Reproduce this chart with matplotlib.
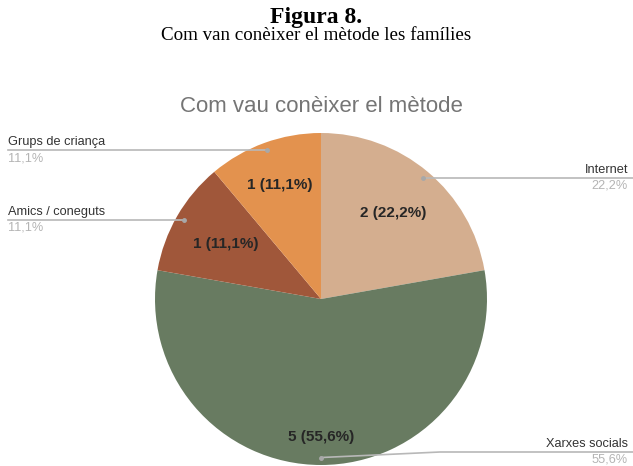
import numpy as np
import matplotlib
matplotlib.use("Agg")
import matplotlib.pyplot as plt

categories = ["Internet", "Xarxes socials", "Amics / coneguts", "Grups de criança"]
values = [2, 5, 1, 1]
pct_labels = ["22,2%", "55,6%", "11,1%", "11,1%"]
colors = ["#d4ae8f", "#687b61", "#a0573a", "#e3924e"]

W, H = 633, 466
fig = plt.figure(figsize=(W / 100, H / 100), dpi=100)
ax = fig.add_axes([0, 0, 1, 1])

cx, cy, R = 321, H - 299, 166
wedges, _ = ax.pie(values, colors=colors, startangle=90, counterclock=False,
                   center=(cx, cy), radius=R, wedgeprops=dict(linewidth=0))
ax.set_xlim(0, W)
ax.set_ylim(0, H)
ax.set_aspect("equal")
ax.axis("off")

sans = ["Liberation Sans", "DejaVu Sans"]
serif = ["Liberation Serif", "DejaVu Serif"]

# inner value labels
inner_r = [0.68, 0.83, 0.66, 0.73]
for w, v, p, rr in zip(wedges, values, pct_labels, inner_r):
    ang = np.deg2rad((w.theta1 + w.theta2) / 2)
    x = cx + rr * R * np.cos(ang)
    y = cy + rr * R * np.sin(ang)
    ax.text(x, y, f"{v} ({p})", ha="center", va="center",
            fontsize=11, family=sans, color="#262626", fontweight="semibold")

# leader lines and outside labels
line_c = "#b8b8b8"
fs = 9.2
right_x = 628
left_x = 8
for w, cat, p in zip(wedges, categories, pct_labels):
    ang = np.deg2rad((w.theta1 + w.theta2) / 2)
    dx = cx + 0.955 * R * np.cos(ang)
    dy = cy + 0.955 * R * np.sin(ang)
    ax.plot([dx], [dy], marker="o", ms=2.5, color="#a8a8a8", zorder=5)
    if cat == "Xarxes socials":
        ly = H - 452
        ax.plot([dx, 440, W], [dy, ly, ly], color=line_c, lw=1.2, zorder=4)
        ax.text(right_x, ly + 2, cat, ha="right", va="bottom", fontsize=fs, family=sans, color="#333333")
        ax.text(right_x, ly - 2, p, ha="right", va="top", fontsize=fs, family=sans, color="#b4b4b4")
    elif np.cos(ang) > 0:
        ly = dy
        ax.plot([dx, W], [ly, ly], color=line_c, lw=1.2, zorder=4)
        ax.text(right_x, ly + 2, cat, ha="right", va="bottom", fontsize=fs, family=sans, color="#333333")
        ax.text(right_x, ly - 2, p, ha="right", va="top", fontsize=fs, family=sans, color="#b4b4b4")
    else:
        ly = dy
        ax.plot([left_x, dx], [ly, ly], color=line_c, lw=1.2, zorder=4)
        ax.text(left_x, ly + 2, cat, ha="left", va="bottom", fontsize=fs, family=sans, color="#333333")
        ax.text(left_x, ly - 2, p, ha="left", va="top", fontsize=fs, family=sans, color="#b4b4b4")

# chart title
ax.text(cx, H - 106, "Com vau conèixer el mètode", ha="center", va="center",
        fontsize=16, family=sans, color="#757575")

# figure titles
fig.text(316 / W, 1 - 17 / H, "Figura 8.", ha="center", va="center",
         fontsize=17, family=serif, fontweight="bold", color="black")
fig.text(316 / W, 1 - 36 / H, "Com van conèixer el mètode les famílies", ha="center", va="center",
         fontsize=13.7, family=serif, color="black")

fig.savefig("out.png", dpi=100, facecolor="white")
